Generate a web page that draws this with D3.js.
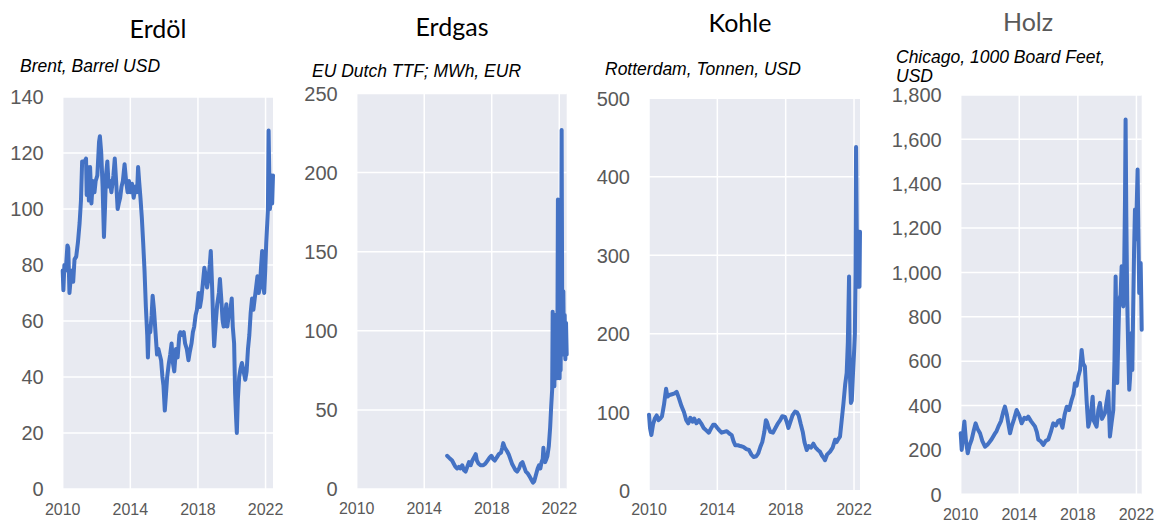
<!DOCTYPE html>
<html>
<head>
<meta charset="utf-8">
<script src="https://cdn.jsdelivr.net/npm/d3@7"></script>
<style>
  html, body { margin: 0; padding: 0; background: #fff; }
  svg { display: block; }
</style>
</head>
<body>
<div id="chart"></div>
<script>
// ---- data (decimal year, value) ----
const oil = [
  [2010.00,78],[2010.04,71],[2010.10,80],[2010.18,78],[2010.28,87],[2010.33,86],[2010.40,70],[2010.47,75],
  [2010.55,78],[2010.62,74],[2010.70,82],[2010.80,83],[2010.90,88],[2011.00,95],[2011.08,103],[2011.15,117],
  [2011.30,117],[2011.38,118],[2011.42,105],[2011.48,115],[2011.55,103],[2011.62,115],[2011.70,102],[2011.78,110],
  [2011.88,106],[2011.95,110],[2012.05,112],[2012.15,124],[2012.20,126],[2012.28,120],[2012.36,108],[2012.44,90],
  [2012.50,100],[2012.56,112],[2012.64,117],[2012.72,108],[2012.80,110],[2012.88,106],[2013.00,112],[2013.08,118],
  [2013.16,110],[2013.25,100],[2013.32,102],[2013.40,104],[2013.48,108],[2013.56,110],[2013.66,116],[2013.75,110],
  [2013.84,106],[2013.92,110],[2014.00,106],[2014.10,109],[2014.20,104],[2014.30,108],[2014.40,106],[2014.46,115],
  [2014.52,110],[2014.60,104],[2014.68,97],[2014.76,88],[2014.84,78],[2014.92,65],[2015.00,55],[2015.04,47],
  [2015.10,58],[2015.18,56],[2015.26,62],[2015.32,69],[2015.40,64],[2015.50,55],[2015.58,48],[2015.66,50],
  [2015.74,48],[2015.82,46],[2015.90,40],[2015.96,37],[2016.04,28],[2016.10,33],[2016.18,40],[2016.28,45],
  [2016.36,48],[2016.44,52],[2016.52,45],[2016.60,42],[2016.70,50],[2016.80,47],[2016.90,55],[2016.96,56],
  [2017.06,55],[2017.16,56],[2017.24,52],[2017.34,50],[2017.44,46],[2017.52,49],[2017.62,52],[2017.70,56],
  [2017.78,58],[2017.86,62],[2017.94,64],[2018.04,70],[2018.12,65],[2018.20,68],[2018.30,74],[2018.38,79],
  [2018.46,76],[2018.54,72],[2018.62,75],[2018.70,80],[2018.76,85],[2018.84,72],[2018.90,60],[2018.96,51],
  [2019.06,60],[2019.14,66],[2019.24,70],[2019.30,75],[2019.38,68],[2019.46,60],[2019.52,58],[2019.60,62],
  [2019.68,66],[2019.74,58],[2019.82,62],[2019.92,64],[2020.00,68],[2020.06,58],[2020.14,52],[2020.20,34],
  [2020.26,25],[2020.30,20],[2020.36,32],[2020.44,40],[2020.52,43],[2020.60,45],[2020.70,42],[2020.80,39],
  [2020.88,42],[2020.96,50],[2021.04,55],[2021.12,63],[2021.20,68],[2021.28,64],[2021.36,68],[2021.44,72],
  [2021.52,76],[2021.60,70],[2021.66,72],[2021.74,80],[2021.80,85],[2021.86,73],[2021.92,70],[2021.98,78],
  [2022.04,88],[2022.10,95],[2022.14,100],[2022.18,128],[2022.22,112],[2022.26,100],[2022.30,108],[2022.35,112],
  [2022.39,102],[2022.44,112]
];

const gas = [
  [2015.36,21],[2015.45,20],[2015.55,19],[2015.65,18],[2015.75,16],[2015.85,14],[2015.95,13],[2016.05,14],
  [2016.15,13],[2016.25,15],[2016.35,12],[2016.45,11],[2016.55,14],[2016.65,17],[2016.75,15],[2016.85,18],
  [2016.95,20],[2017.05,22],[2017.12,18],[2017.22,16],[2017.35,15],[2017.50,15],[2017.62,16],[2017.75,18],
  [2017.88,20],[2017.98,21],[2018.08,19],[2018.18,18],[2018.30,20],[2018.42,22],[2018.55,23],[2018.62,26],
  [2018.68,29],[2018.78,26],[2018.90,24],[2019.00,22],[2019.10,19],[2019.20,16],[2019.30,14],[2019.40,12],
  [2019.50,11],[2019.62,13],[2019.72,16],[2019.82,17],[2019.92,14],[2020.02,11],[2020.12,10],[2020.24,8],
  [2020.34,6],[2020.44,4],[2020.52,5],[2020.62,9],[2020.72,13],[2020.80,15],[2020.88,13],[2020.95,17],
  [2021.02,19],[2021.06,26],[2021.10,20],[2021.16,17],[2021.24,19],[2021.30,21],[2021.38,27],[2021.46,39],
  [2021.52,52],[2021.58,63],[2021.61,112],[2021.64,70],[2021.68,100],[2021.71,65],[2021.75,110],[2021.78,75],
  [2021.82,95],[2021.86,70],[2021.89,100],[2021.92,183],[2021.95,120],[2021.98,85],[2022.02,70],[2022.05,95],
  [2022.08,75],[2022.11,120],[2022.14,227],[2022.17,125],[2022.20,95],[2022.24,125],[2022.28,85],[2022.32,110],
  [2022.36,82],[2022.40,105],[2022.44,85]
];

const coal = [
  [2010.00,97],[2010.06,80],[2010.14,71],[2010.24,85],[2010.34,92],[2010.45,96],[2010.56,90],[2010.66,92],
  [2010.76,95],[2010.88,110],[2011.00,130],[2011.08,120],[2011.20,122],[2011.35,123],[2011.50,124],[2011.62,126],
  [2011.75,118],[2011.90,108],[2012.05,100],[2012.18,90],[2012.30,86],[2012.42,93],[2012.55,88],[2012.65,92],
  [2012.78,86],[2012.92,90],[2013.05,86],[2013.20,80],[2013.35,77],[2013.50,74],[2013.62,79],[2013.75,84],
  [2013.86,84],[2014.00,80],[2014.12,77],[2014.25,74],[2014.40,75],[2014.55,76],[2014.70,73],[2014.84,71],
  [2014.95,63],[2015.05,58],[2015.20,58],[2015.35,57],[2015.52,56],[2015.70,53],[2015.85,52],[2016.00,46],
  [2016.12,43],[2016.28,44],[2016.40,48],[2016.52,56],[2016.63,62],[2016.75,75],[2016.84,90],[2016.90,88],
  [2016.98,82],[2017.10,75],[2017.25,74],[2017.40,80],[2017.55,86],[2017.68,90],[2017.80,95],[2017.96,94],
  [2018.06,88],[2018.16,80],[2018.28,88],[2018.40,96],[2018.55,101],[2018.66,100],[2018.76,96],[2018.88,85],
  [2019.00,75],[2019.10,62],[2019.23,52],[2019.35,57],[2019.48,55],[2019.62,60],[2019.75,55],[2019.88,52],
  [2020.00,50],[2020.12,45],[2020.22,42],[2020.30,39],[2020.42,46],[2020.60,50],[2020.75,55],[2020.89,65],
  [2020.98,62],[2021.08,66],[2021.18,69],[2021.28,90],[2021.38,111],[2021.48,135],[2021.57,150],[2021.64,190],
  [2021.71,273],[2021.74,180],[2021.77,141],[2021.82,112],[2021.87,115],[2021.94,150],[2022.00,175],[2022.05,200],
  [2022.09,280],[2022.12,438],[2022.16,330],[2022.20,260],[2022.23,330],[2022.26,265],[2022.29,330],[2022.32,260],
  [2022.35,330]
];

const lumber = [
  [2010.00,275],[2010.07,200],[2010.16,270],[2010.25,328],[2010.36,240],[2010.48,185],[2010.60,220],[2010.75,247],
  [2010.90,290],[2011.02,320],[2011.15,295],[2011.32,275],[2011.48,240],[2011.66,215],[2011.85,225],[2012.10,247],
  [2012.30,270],[2012.45,285],[2012.57,305],[2012.75,330],[2012.90,370],[2013.02,395],[2013.15,360],[2013.30,300],
  [2013.37,275],[2013.50,310],[2013.65,340],[2013.82,380],[2014.00,355],[2014.16,320],[2014.35,345],[2014.50,340],
  [2014.61,350],[2014.80,330],[2015.07,306],[2015.20,280],[2015.30,247],[2015.45,240],[2015.64,223],[2015.80,240],
  [2015.98,247],[2016.15,280],[2016.32,320],[2016.50,310],[2016.65,330],[2016.78,335],[2016.95,300],[2017.10,360],
  [2017.24,395],[2017.40,380],[2017.58,426],[2017.70,450],[2017.80,500],[2017.92,490],[2018.03,531],[2018.15,560],
  [2018.26,651],[2018.36,590],[2018.48,576],[2018.60,420],[2018.71,305],[2018.85,340],[2019.01,440],[2019.10,330],
  [2019.28,305],[2019.40,380],[2019.51,412],[2019.65,340],[2019.85,366],[2019.95,410],[2020.08,463],[2020.19,260],
  [2020.30,320],[2020.42,380],[2020.50,600],[2020.58,982],[2020.64,700],[2020.69,502],[2020.76,700],[2020.83,877],
  [2020.92,900],[2020.99,1028],[2021.05,880],[2021.10,847],[2021.16,1000],[2021.22,1328],[2021.26,1690],[2021.31,1250],
  [2021.37,877],[2021.44,650],[2021.51,471],[2021.56,520],[2021.62,600],[2021.67,727],[2021.72,560],[2021.78,845],
  [2021.84,1100],[2021.90,1284],[2021.96,1150],[2022.02,1300],[2022.08,1464],[2022.13,1200],[2022.19,907],
  [2022.24,950],[2022.29,1043],[2022.33,880],[2022.36,742]
];

// tick values
const yearTicks = [2010, 2014, 2018, 2022];
const oilTicks = [0, 20, 40, 60, 80, 100, 120, 140];
const gasTicks = [0, 50, 100, 150, 200, 250];
const coalTicks = [0, 100, 200, 300, 400, 500];
const lumberTicks = [0, 200, 400, 600, 800, 1000, 1200, 1400, 1600, 1800];

// panel layout (pixel frame of each small chart)
const panels = [
  { data: oil, yTicks: oilTicks, title: 'Erdöl', titleColor: '#000', titleX: 158, titleY: 38,
    sub: ['Brent, Barrel USD'], subX: 20, subY: 72,
    left: 62.7, right: 273, top: 97, bottom: 489, xMax: 2022.44, xLabelY: 515, fmt: d3.format('d') },
  { data: gas, yTicks: gasTicks, title: 'Erdgas', titleColor: '#000', titleX: 452, titleY: 36,
    sub: ['EU Dutch TTF; MWh, EUR'], subX: 312, subY: 77,
    left: 356.7, right: 566.7, top: 93.5, bottom: 489, xMax: 2022.44, xLabelY: 514, fmt: d3.format('d') },
  { data: coal, yTicks: coalTicks, title: 'Kohle', titleColor: '#000', titleX: 740, titleY: 32,
    sub: ['Rotterdam, Tonnen, USD'], subX: 605, subY: 75,
    left: 649, right: 860, top: 98.3, bottom: 490.8, xMax: 2022.35, xLabelY: 515, fmt: d3.format('d') },
  { data: lumber, yTicks: lumberTicks, title: 'Holz', titleColor: '#595959', titleX: 1028, titleY: 31,
    sub: ['Chicago, 1000 Board Feet,', 'USD'], subX: 896, subY: 63,
    left: 960.7, right: 1141.7, top: 95, bottom: 494.3, xMax: 2022.36, xLabelY: 520, fmt: d3.format(',') }
];

const W = 1157, H = 523;
const svg = d3.select('#chart').append('svg')
  .attr('width', W).attr('height', H)
  .attr('viewBox', `0 0 ${W} ${H}`);

panels.forEach(p => {
  const x = d3.scaleLinear().domain([2010, p.xMax]).range([p.left, p.right]);
  const yMax = p.yTicks[p.yTicks.length - 1];
  const y = d3.scaleLinear().domain([0, yMax]).range([p.bottom, p.top]);
  const g = svg.append('g');

  // plot background
  g.append('rect')
    .attr('x', p.left).attr('y', p.top)
    .attr('width', p.right - p.left).attr('height', p.bottom - p.top)
    .attr('fill', '#e8eaf1');

  // gridlines
  g.selectAll('.hgrid').data(p.yTicks).enter().append('line')
    .attr('x1', p.left).attr('x2', p.right)
    .attr('y1', d => y(d)).attr('y2', d => y(d))
    .attr('stroke', '#fff').attr('stroke-width', 1.5);
  g.selectAll('.vgrid').data(yearTicks).enter().append('line')
    .attr('x1', d => x(d)).attr('x2', d => x(d))
    .attr('y1', p.top).attr('y2', p.bottom)
    .attr('stroke', '#fff').attr('stroke-width', 1.5);

  // series line
  const line = d3.line().x(d => x(d[0])).y(d => y(d[1]));
  g.append('path')
    .datum(p.data)
    .attr('d', line)
    .attr('fill', 'none')
    .attr('stroke', '#4472c4')
    .attr('stroke-width', 4)
    .attr('stroke-linejoin', 'round')
    .attr('stroke-linecap', 'round');

  // y tick labels
  g.selectAll('.ylab').data(p.yTicks).enter().append('text')
    .attr('x', p.left - 19).attr('y', d => y(d))
    .attr('dy', '0.36em')
    .attr('text-anchor', 'end')
    .style('font-family', '"Liberation Sans", Arial, sans-serif')
    .style('font-size', '20px')
    .style('fill', '#595959')
    .text(d => p.fmt(d));

  // x tick labels
  g.selectAll('.xlab').data(yearTicks).enter().append('text')
    .attr('x', d => x(d)).attr('y', p.xLabelY)
    .attr('text-anchor', 'middle')
    .style('font-family', '"Liberation Sans", Arial, sans-serif')
    .style('font-size', '16px')
    .style('fill', '#595959')
    .text(d => d);

  // title
  g.append('text')
    .attr('x', p.titleX).attr('y', p.titleY)
    .attr('text-anchor', 'middle')
    .style('font-family', 'Lato, "Open Sans", sans-serif')
    .style('font-size', '25px')
    .style('fill', p.titleColor)
    .text(p.title);

  // subtitle
  p.sub.forEach((s, i) => {
    g.append('text')
      .attr('x', p.subX).attr('y', p.subY + i * 19)
      .style('font-family', '"Liberation Sans", Arial, sans-serif')
      .style('font-size', '17.5px')
      .style('font-style', 'italic')
      .style('fill', '#000')
      .text(s);
  });
});
</script>
</body>
</html>
